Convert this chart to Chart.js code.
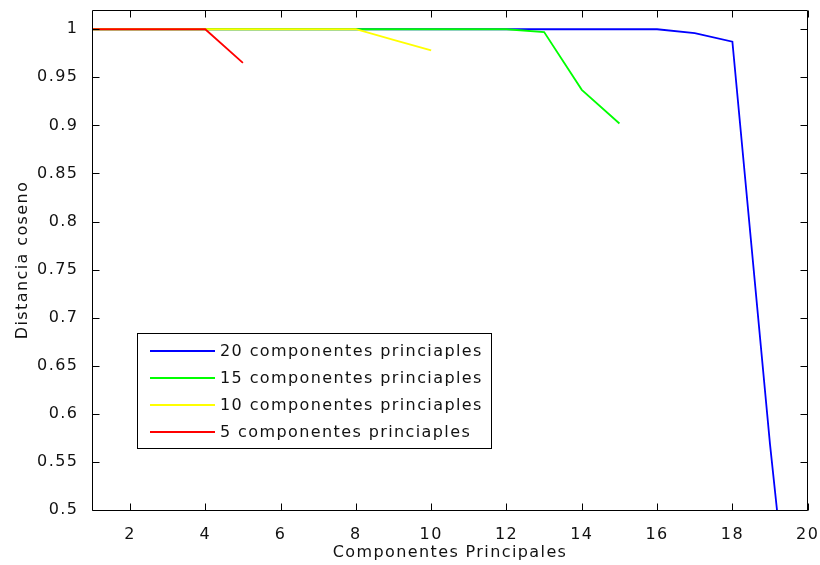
<!DOCTYPE html>
<html>
<head>
<meta charset="utf-8">
<title>Distancia coseno</title>
<script src="https://cdn.jsdelivr.net/npm/chart.js@4/dist/chart.umd.min.js"></script>
<style>
  html, body { margin: 0; padding: 0; background: #ffffff; }
  #wrap { width: 820px; height: 565px; }
</style>
</head>
<body>
<div id="wrap"><canvas id="chart" width="820" height="565"></canvas></div>
<script>
// Cosine distance for each number of retained principal components
const comp20 = [1, 1, 1, 1, 1, 1, 1, 1, 1, 1, 1, 1, 1, 1, 1, 1, 0.996, 0.987, 0.568, 0.2];
const comp15 = [1, 1, 1, 1, 1, 1, 1, 1, 1, 1, 1, 1, 0.997, 0.937, 0.902];
const comp10 = [1, 1, 1, 1, 1, 1, 1, 1, 0.989, 0.978];
const comp5  = [1, 1, 1, 1, 0.965];

const seriesLabels = [
  '20 componentes princiaples',
  '15 componentes princiaples',
  '10 componentes princiaples',
  '5 componentes princiaples'
];

const xTicks = [2, 4, 6, 8, 10, 12, 14, 16, 18, 20];
const yTicks = [0.5, 0.55, 0.6, 0.65, 0.7, 0.75, 0.8, 0.85, 0.9, 0.95, 1];

const xTitle = 'Componentes Principales';
const yTitle = 'Distancia coseno';

const FONT = { family: '"DejaVu Sans", sans-serif', size: 16 };
const TEXT_COLOR = '#111111';
const LETTER_SPACING = '1.4px';
const TICK_LEN = 7;
const LINE_WIDTH = 1.8;

const toPoints = vals => vals.map((v, i) => ({ x: i + 1, y: v }));

// first dataset is painted last, so red sits on top and blue underneath
const datasets = [
  { label: seriesLabels[3], data: toPoints(comp5),  borderColor: '#ff0000' },
  { label: seriesLabels[2], data: toPoints(comp10), borderColor: '#ffff00' },
  { label: seriesLabels[1], data: toPoints(comp15), borderColor: '#00ff00' },
  { label: seriesLabels[0], data: toPoints(comp20), borderColor: '#0000ff' }
].map(d => Object.assign(d, {
  borderWidth: LINE_WIDTH,
  pointRadius: 0,
  tension: 0,
  fill: false
}));

const setSpacing = chart => { chart.ctx.letterSpacing = LETTER_SPACING; };

// boxed axes with inward ticks on all four sides, plus an inset legend
const boxAxes = {
  id: 'boxAxes',
  beforeInit: setSpacing,
  beforeUpdate: setSpacing,
  beforeLayout: setSpacing,
  beforeDraw: setSpacing,
  afterDatasetsDraw(chart) {
    const { ctx, chartArea: a, scales: { x, y } } = chart;
    const L = Math.floor(a.left) + 0.5, R = Math.floor(a.right) + 0.5;
    const T = Math.floor(a.top) + 0.5, B = Math.floor(a.bottom) + 0.5;
    ctx.save();
    ctx.strokeStyle = '#000000';
    ctx.lineWidth = 1;
    ctx.beginPath();
    ctx.rect(L, T, R - L, B - T);
    x.ticks.forEach(t => {
      const px = Math.round(x.getPixelForValue(t.value)) + 0.5;
      ctx.moveTo(px, B); ctx.lineTo(px, B - TICK_LEN);
      ctx.moveTo(px, T); ctx.lineTo(px, T + TICK_LEN);
    });
    y.ticks.forEach(t => {
      const py = Math.round(y.getPixelForValue(t.value)) + 0.5;
      ctx.moveTo(L, py); ctx.lineTo(L + TICK_LEN, py);
      ctx.moveTo(R, py); ctx.lineTo(R - TICK_LEN, py);
    });
    ctx.stroke();
    ctx.restore();
  },
  afterDraw(chart) {
    const ctx = chart.ctx;
    const box = { left: 137.5, top: 333.5, width: 354, height: 115 };
    const rowTop = 351, rowGap = 27;
    const sampleStart = 150, sampleEnd = 215, textStart = 220;
    ctx.save();
    ctx.fillStyle = '#ffffff';
    ctx.fillRect(box.left, box.top, box.width, box.height);
    ctx.strokeStyle = '#000000';
    ctx.lineWidth = 1;
    ctx.strokeRect(box.left, box.top, box.width, box.height);
    ctx.font = `${FONT.size}px ${FONT.family}`;
    ctx.letterSpacing = LETTER_SPACING;
    ctx.textAlign = 'left';
    ctx.textBaseline = 'middle';
    const ordered = chart.data.datasets.slice().reverse();
    ordered.forEach((ds, i) => {
      const ry = rowTop + i * rowGap;
      ctx.strokeStyle = ds.borderColor;
      ctx.lineWidth = LINE_WIDTH;
      ctx.beginPath();
      ctx.moveTo(sampleStart, ry);
      ctx.lineTo(sampleEnd, ry);
      ctx.stroke();
      ctx.fillStyle = TEXT_COLOR;
      ctx.fillText(ds.label, textStart, ry + 1);
    });
    ctx.restore();
  }
};

new Chart(document.getElementById('chart'), {
  type: 'line',
  data: { datasets },
  plugins: [boxAxes],
  options: {
    responsive: false,
    animation: false,
    events: [],
    layout: { padding: { top: 10, right: 12.3, bottom: 0, left: 0 } },
    plugins: { legend: { display: false }, tooltip: { enabled: false } },
    scales: {
      x: {
        type: 'linear',
        min: 1,
        max: 20,
        grid: { display: false },
        border: { display: false },
        afterBuildTicks: s => { s.ticks = xTicks.map(v => ({ value: v })); },
        afterFit: s => { s.height = 55; s.paddingLeft = 0; s.paddingRight = 0; },
        ticks: { font: FONT, color: TEXT_COLOR, padding: 7, maxRotation: 0, autoSkip: false,
                 callback: v => String(v) },
        title: { display: true, text: xTitle, font: FONT, color: TEXT_COLOR,
                 padding: { top: 0, bottom: 3 } }
      },
      y: {
        type: 'linear',
        min: 0.5,
        max: 1.02,
        grid: { display: false },
        border: { display: false },
        afterBuildTicks: s => { s.ticks = yTicks.map(v => ({ value: v })); },
        afterFit: s => { s.width = 92.3; s.paddingTop = 0; s.paddingBottom = 0; },
        ticks: { font: FONT, color: TEXT_COLOR, padding: 6, autoSkip: false,
                 callback: v => String(v) },
        title: { display: true, text: yTitle, font: FONT, color: TEXT_COLOR,
                 padding: { top: 13, bottom: 0 } }
      }
    }
  }
});
</script>
</body>
</html>
